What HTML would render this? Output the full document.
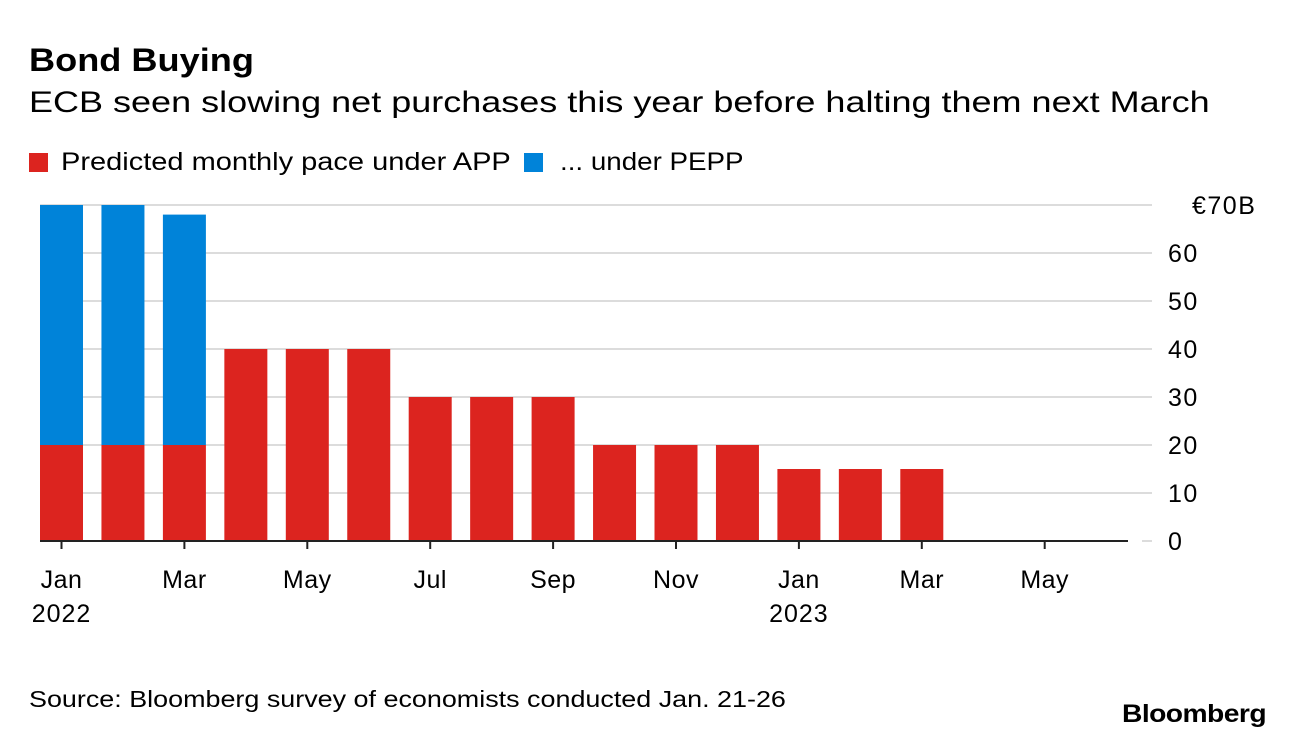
<!DOCTYPE html>
<html><head><meta charset="utf-8"><style>
body{margin:0;background:#fff;font-family:"Liberation Sans",sans-serif;color:#000}
#wrap{position:relative;width:1289px;height:740px;overflow:hidden}
.t{position:absolute;white-space:nowrap;transform-origin:0 0}
</style></head><body>
<div id="wrap">
<div class="t" style="left:29px;top:42px;font-size:32px;font-weight:bold;transform:scaleX(1.13)">Bond Buying</div>
<div class="t" style="left:29px;top:86px;font-size:30px;transform:scaleX(1.2)">ECB seen slowing net purchases this year before halting them next March</div>
<div class="t" style="left:29px;top:148px;font-size:25px"><span style="display:inline-block;width:19px;height:19px;background:#dc241f;margin-right:13px;vertical-align:-2px"></span><span style="display:inline-block;transform:scaleX(1.16);transform-origin:0 0">Predicted monthly pace under APP</span></div>
<div class="t" style="left:524px;top:148px;font-size:25px"><span style="display:inline-block;width:19px;height:19px;background:#0083d9;margin-right:17px;vertical-align:-2px"></span><span style="display:inline-block;transform:scaleX(1.11);transform-origin:0 0">... under PEPP</span></div>
<svg id="chart" width="1289" height="740" style="position:absolute;left:0;top:0"></svg>
<div class="t" style="left:29px;top:686px;font-size:23px;transform:scaleX(1.17)">Source: Bloomberg survey of economists conducted Jan. 21-26</div>
<div class="t" style="left:1122px;top:700px;font-size:25px;font-weight:bold;letter-spacing:-0.5px;transform:scaleX(1.13)">Bloomberg</div>
</div>
<script>
const months=["Jan","Feb","Mar","Apr","May","Jun","Jul","Aug","Sep","Oct","Nov","Dec","Jan","Feb","Mar","Apr","May","Jun"];
const app=[20,20,20,40,40,40,30,30,30,20,20,20,15,15,15,0,0,0];
const pepp=[50,50,48,0,0,0,0,0,0,0,0,0,0,0,0,0,0,0];
const yTicks=[0,10,20,30,40,50,60,70];
const yTickLabels=["0","10","20","30","40","50","60","€70B"];
const xLabelIdx=[0,2,4,6,8,10,12,14,16];
const yearLabels=[{i:0,t:"2022"},{i:12,t:"2023"}];
const NS="http://www.w3.org/2000/svg";
const svg=document.getElementById('chart');
const y=v=>541-v*4.8;
const x=i=>61.5+i*61.45;
const bw=43;
function mk(tag,attrs){const e=document.createElementNS(NS,tag);for(const k in attrs)e.setAttribute(k,attrs[k]);svg.appendChild(e);return e;}
yTicks.forEach((v,k)=>{
  const g=mk('line',{x1:v===0?1142:40,x2:1152,y1:y(v),y2:y(v),stroke:'#dcdcdc','stroke-width':2});
  
  
  const t=mk('text',{x:k===7?1192:1168,y:y(v)+9,'font-size':25,'letter-spacing':1.5,'font-family':'Liberation Sans, sans-serif'});
  t.textContent=yTickLabels[k];
  
  
});
months.forEach((m,i)=>{
  if(app[i]>0){const r=mk('rect',{x:x(i)-bw/2,y:y(app[i]),width:bw,height:y(0)-y(app[i]),fill:'#dc241f'});
  
  }
  if(pepp[i]>0){const r=mk('rect',{x:x(i)-bw/2,y:y(app[i]+pepp[i]),width:bw,height:y(app[i])-y(app[i]+pepp[i]),fill:'#0083d9'});
  
  }
});
const base=mk('line',{x1:40,x2:1128,y1:541,y2:541,stroke:'#222','stroke-width':2});


xLabelIdx.forEach(i=>{
  const tk=mk('line',{x1:x(i),x2:x(i),y1:541,y2:549,stroke:'#222','stroke-width':2});
  
  
  const t=mk('text',{x:x(i),y:588,'font-size':25,'letter-spacing':0.5,'text-anchor':'middle','font-family':'Liberation Sans, sans-serif'});
  t.textContent=months[i];
  
  
});
yearLabels.forEach(o=>{
  const t=mk('text',{x:x(o.i),y:622,'font-size':25,'letter-spacing':1,'text-anchor':'middle','font-family':'Liberation Sans, sans-serif'});
  t.textContent=o.t;
  
  
});
</script>
</body></html>
